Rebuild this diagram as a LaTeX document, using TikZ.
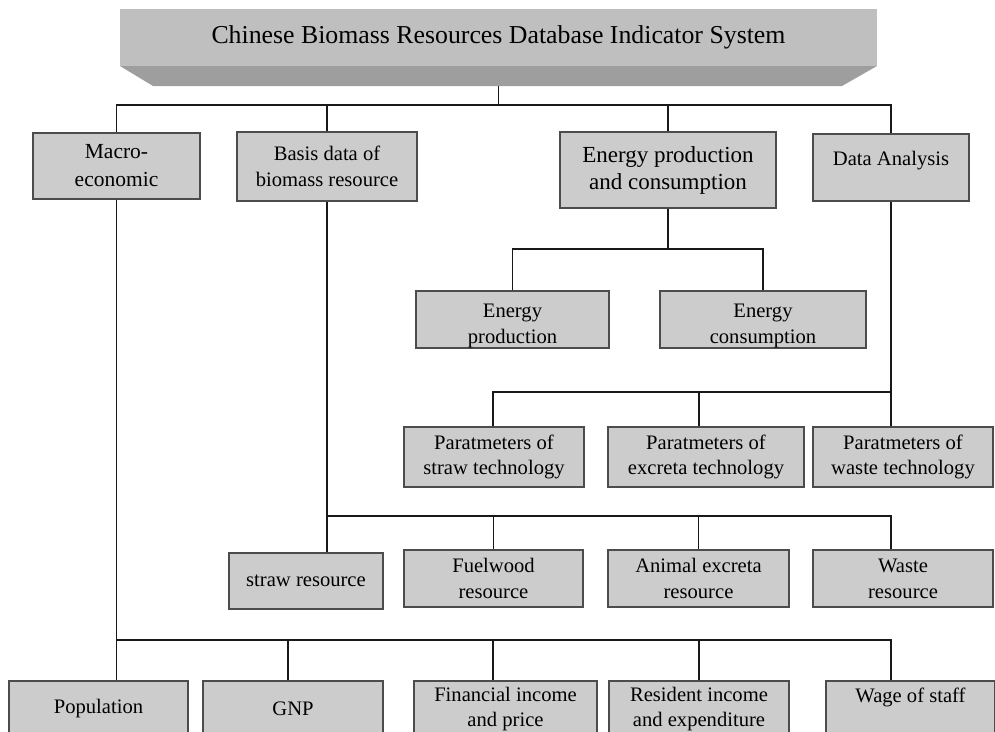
\documentclass[tikz,border=0pt]{standalone}
\usepackage{fontspec}
\setmainfont{Liberation Serif}
\usepackage{tikz}
\definecolor{boxgray}{gray}{0.8}
\definecolor{banhi}{gray}{0.75}
\definecolor{banlo}{gray}{0.62}
\tikzset{
	treenode/.style = {align=center, inner sep=0pt, text centered,
		font=\fontsize{20.6}{25.7}\selectfont},
	ind_b/.style = {treenode, rectangle, draw=black!70, fill=boxgray,
		line width=1.3pt},% indicator box
	ind_big/.style = {ind_b, font=\fontsize{23}{27}\selectfont},% larger text
	ban_hi/.style = {treenode, rectangle, fill=banhi, minimum width=757,
		minimum height=57, font=\fontsize{25.8}{30}\selectfont},% title band
	link/.style = {draw=black!90, line width=1.1pt}% connector
}
\begin{document}
\begin{tikzpicture}[x=1pt, y=-1pt]
	\useasboundingbox (0,0) rectangle (995,731);
	% title band
	\fill[banlo] (120,66) -- (877,66) -- (842,86) -- (153,86) -- cycle;
	\node [ban_hi] (sys) at (498.5,37.5) {Chinese Biomass Resources Database Indicator System};
	\coordinate (sys_foot) at (498.5,86);
	% first level
	\node [ind_b, font=\fontsize{21.5}{28}\selectfont, minimum width=167, minimum height=66] (macro) at (116.5,166) {Macro-\\economic};
	\node [ind_b, minimum width=180, minimum height=69] (basis) at (327,166.5) {Basis data of\\biomass resource};
	\node [ind_big, minimum width=216, minimum height=76] (epc) at (668,170) {Energy production\\and consumption};
	\node [ind_b, minimum width=156, minimum height=67, text height=14, text depth=19] (data) at (891,167.5) {Data Analysis};
	% energy
	\node [ind_b, minimum width=193, minimum height=57, text height=52, text depth=5] (eprod) at (512.5,319.5) {Energy\\production};
	\node [ind_b, minimum width=206, minimum height=57, text height=52, text depth=5] (econs) at (763,319.5) {Energy\\consumption};
	% technology parameters
	\node [ind_b, minimum width=180, minimum height=60] (pstraw) at (494,457) {Paratmeters of\\straw technology};
	\node [ind_b, minimum width=196, minimum height=60] (pexcr) at (706,457) {Paratmeters of\\excreta technology};
	\node [ind_b, minimum width=180, minimum height=60] (pwaste) at (903,457) {Paratmeters of\\waste technology};
	% resources
	\node [ind_b, minimum width=154, minimum height=56] (rstraw) at (306,581) {straw resource};
	\node [ind_b, minimum width=179, minimum height=57] (rfuel) at (493.5,578.5) {Fuelwood\\resource};
	\node [ind_b, minimum width=181, minimum height=57] (ranim) at (698.5,578.5) {Animal excreta\\resource};
	\node [ind_b, minimum width=180, minimum height=57] (rwaste) at (903,578.5) {Waste\\resource};
	% macro-economic
	\node [ind_b, minimum width=179, minimum height=56] (pop) at (98.5,709) {Population};
	\node [ind_b, minimum width=180, minimum height=56] (gnp) at (293,709) {GNP};
	\node [ind_b, minimum width=183, minimum height=56] (fin) at (505.5,709) {Financial income\\and price};
	\node [ind_b, minimum width=180, minimum height=56] (res) at (699,709) {Resident income\\and expenditure};
	\node [ind_b, minimum width=169, minimum height=56, text height=14, text depth=28] (wage) at (910.5,709) {Wage of staff};

	% bus lines and columns
	\coordinate (bus_t) at (498.5,105);
	\coordinate (bus_e) at (668,249);
	\coordinate (bus_d) at (891,392);
	\coordinate (bus_b) at (327,516);
	\coordinate (bus_m) at (116.5,640);
	\coordinate (col_g) at (288,0);
	\coordinate (col_a) at (493,0);
	\coordinate (col_b) at (699,0);
	\coordinate (col_c) at (891,0);

	\draw [link] (sys_foot) -- (bus_t);
	\draw [link] (macro.north) |- (bus_t) -| (data.north);
	\draw [link] (basis.north) -- (basis.north |- bus_t);
	\draw [link] (epc.north) -- (epc.north |- bus_t);

	\draw [link] (epc.south) -- (bus_e);
	\draw [link] (eprod.north) |- (bus_e) -| (econs.north);

	\draw [link] (data.south) -- (data.south |- pwaste.north);
	\draw [link] (pstraw.north -| col_a) |- (bus_d);
	\draw [link] (bus_d -| col_b) -- (pexcr.north -| col_b);

	\draw [link] (basis.south) -- (basis.south |- rstraw.north);
	\draw [link] (bus_b) -| (rwaste.north -| col_c);
	\foreach \n in {rfuel,ranim}
		\draw [link] (\n.north) -- (\n.north |- bus_b);

	\draw [link] (macro.south) -- (macro.south |- pop.north);
	\draw [link] (bus_m) -| (wage.north -| col_c);
	\foreach \n/\c in {gnp/col_g,fin/col_a,res/col_b}
		\draw [link] (\n.north -| \c) -- (\c |- bus_m);
\end{tikzpicture}
\end{document}
